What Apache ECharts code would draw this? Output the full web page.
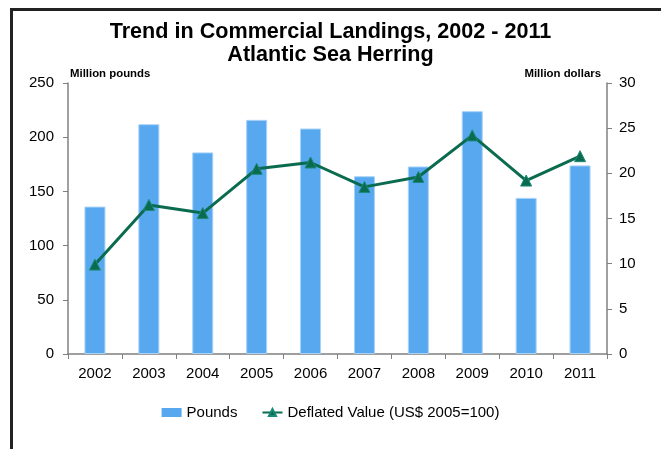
<!DOCTYPE html>
<html>
<head>
<meta charset="utf-8">
<script src="https://cdn.jsdelivr.net/npm/echarts@6/dist/echarts.min.js"></script>
<style>
	html, body { margin: 0; padding: 0; background: #fff; }
	#chart { width: 661px; height: 449px; }
</style>
</head>
<body>
<div id="chart"></div>
<script>
var years = ['2002', '2003', '2004', '2005', '2006', '2007', '2008', '2009', '2010', '2011'];
var pounds = [136, 212, 186, 216, 208, 164, 173, 224, 144, 174];
var deflatedValue = [9.9, 16.5, 15.6, 20.5, 21.2, 18.5, 19.6, 24.2, 19.2, 21.9];
var leftTicks = [0, 50, 100, 150, 200, 250];
var rightTicks = [0, 5, 10, 15, 20, 25, 30];

var myChart = echarts.init(document.getElementById('chart'));
var fontName = 'Liberation Sans, Arial, sans-serif';

var option = {
	animation: false,
	textStyle: { fontFamily: fontName },
	title: {
		text: 'Trend in Commercial Landings, 2002 - 2011\nAtlantic Sea Herring',
		left: 'center',
		top: 16,
		textStyle: {
			fontFamily: fontName,
			fontSize: 21.6,
			fontWeight: 'bold',
			color: '#000',
			lineHeight: 23
		}
	},
	graphic: [{
		type: 'polyline',
		shape: { points: [[11.5, 449], [11.5, 9.5], [661, 9.5]] },
		style: { stroke: '#222', lineWidth: 3, fill: null }
	}],
	legend: {
		bottom: 24,
		left: 'center',
		itemGap: 24,
		itemWidth: 20,
		itemHeight: 9,
		textStyle: { fontSize: 15, color: '#000', fontFamily: fontName },
		data: [
			{ name: 'Pounds', icon: 'rect', itemStyle: { borderWidth: 0 } },
			{ name: 'Deflated Value (US$ 2005=100)' }
		]
	},
	grid: {
		left: 68,
		right: 54,
		top: 83,
		bottom: 95
	},
	xAxis: {
		type: 'category',
		data: years,
		axisLine: { lineStyle: { color: '#808080', width: 1.5 } },
		axisTick: { show: true, length: 5, lineStyle: { color: '#808080' } },
		axisLabel: { fontSize: 15, color: '#000', margin: 12 }
	},
	yAxis: [{
		type: 'value',
		min: leftTicks[0],
		max: leftTicks[leftTicks.length - 1],
		interval: 50,
		name: 'Million pounds',
		nameLocation: 'end',
		nameGap: 4,
		nameTextStyle: { fontSize: 11.4, fontWeight: 'bold', color: '#000', align: 'left', padding: [0, 0, 0, 2] },
		axisLine: { show: true, lineStyle: { color: '#808080', width: 1.5 } },
		axisTick: { show: true, length: 5, lineStyle: { color: '#808080' } },
		axisLabel: { fontSize: 15, color: '#000', margin: 14 },
		splitLine: { show: false }
	}, {
		type: 'value',
		min: rightTicks[0],
		max: rightTicks[rightTicks.length - 1],
		interval: 5,
		position: 'right',
		name: 'Million dollars',
		nameLocation: 'end',
		nameGap: 4,
		nameTextStyle: { fontSize: 11.4, fontWeight: 'bold', color: '#000', align: 'right', padding: [0, 6, 0, 0] },
		axisLine: { show: true, lineStyle: { color: '#808080', width: 1.5 } },
		axisTick: { show: true, length: 5, lineStyle: { color: '#808080' } },
		axisLabel: { fontSize: 15, color: '#000', margin: 12 },
		splitLine: { show: false }
	}],
	series: [{
		name: 'Pounds',
		type: 'bar',
		data: pounds,
		yAxisIndex: 0,
		barWidth: '39%',
		itemStyle: { color: '#58A8F0', borderColor: '#A9D2F7', borderWidth: 1 }
	}, {
		name: 'Deflated Value (US$ 2005=100)',
		type: 'line',
		data: deflatedValue,
		yAxisIndex: 1,
		symbol: 'triangle',
		symbolSize: 11,
		lineStyle: { color: '#0B6B4E', width: 3 },
		itemStyle: { color: '#0B6B4E', borderColor: '#1A8A78', borderWidth: 1 }
	}]
};
myChart.setOption(option);
</script>
</body>
</html>
